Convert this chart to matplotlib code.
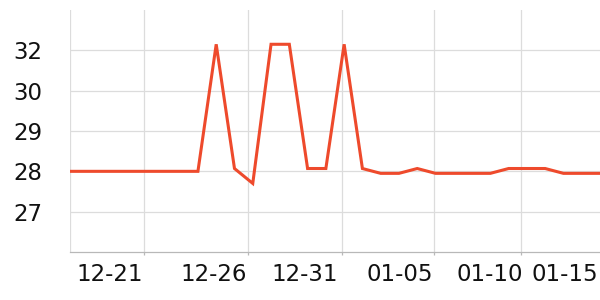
import numpy as np
import matplotlib
matplotlib.use("Agg")
import matplotlib.pyplot as plt
from matplotlib.ticker import FixedLocator, FixedFormatter

# DATA #
values = [28, 28, 28, 28, 28, 28, 28, 28, 32.3, 28.07,
          27.7, 32.3, 32.3, 28.07, 28.07, 32.3, 28.07, 27.95, 27.95, 28.07,
          27.95, 27.95, 27.95, 27.95, 28.07, 28.07, 28.07, 27.95, 27.95, 27.95]
date_labels = ["12-21", "12-26", "12-31", "01-05", "01-10", "01-15"]
y_ticks = [27, 28, 29, 30, 32]

# y axis is spaced evenly between the tick values
y_vals = [26, 27, 28, 29, 30, 32, 34]
y_pos = [0, 1, 2, 3, 4, 5, 6]

def fwd(v):
    return np.interp(v, y_vals, y_pos)

def inv(p):
    return np.interp(p, y_pos, y_vals)

fig = plt.figure(figsize=(6, 3), dpi=100)
ax = fig.add_axes([70/600, 48/300, 530/600, 242/300])

x = np.arange(len(values))
ax.plot(x, values, color="#ee4a2c", lw=2.2, solid_joinstyle="miter", zorder=3)

ax.set_yscale("function", functions=(fwd, inv))
ax.set_ylim(26, 34)
ax.set_xlim(0, len(values) - 1)

ax.yaxis.set_major_locator(FixedLocator(y_ticks))
ax.yaxis.set_major_formatter(FixedFormatter([str(t) for t in y_ticks]))
ax.yaxis.set_minor_locator(FixedLocator([]))

# grid lines and labels sit at different places on this axis
grid_pos = [4.05, 9.74, 14.88, 19.92, 24.68]
label_pos = [2.19, 7.88, 12.86, 18.06, 22.98, 27.09]
ax.xaxis.set_major_locator(FixedLocator(grid_pos))
ax.xaxis.set_major_formatter(FixedFormatter([""] * len(grid_pos)))
ax.xaxis.set_minor_locator(FixedLocator(label_pos))
ax.xaxis.set_minor_formatter(FixedFormatter(date_labels))

ax.grid(True, which="major", color="#dcdcdc", lw=0.9)
ax.axvline(0, color="#dcdcdc", lw=0.9, zorder=1)

for s in ["top", "right", "left"]:
    ax.spines[s].set_visible(False)
ax.spines["bottom"].set_color("#b8b8b8")
ax.spines["bottom"].set_linewidth(0.9)

ax.tick_params(axis="y", length=0, pad=20, labelsize=16.5, labelcolor="#111111")
ax.tick_params(axis="x", which="major", length=2.5, color="#b8b8b8", width=0.9)
ax.tick_params(axis="x", which="minor", length=0, pad=8, labelsize=16.5, labelcolor="#111111")

fig.savefig("out.png", dpi=100)
